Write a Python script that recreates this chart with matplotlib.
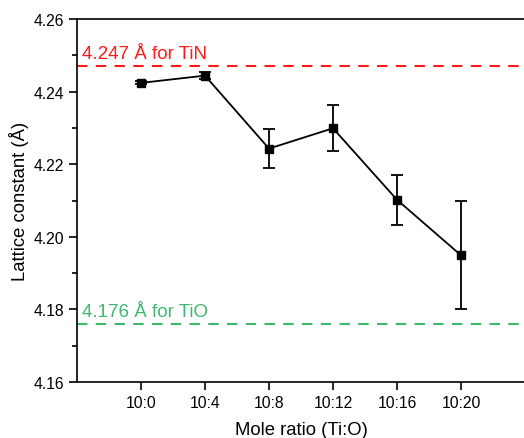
import matplotlib
matplotlib.use("Agg")
import matplotlib.pyplot as plt
from matplotlib.ticker import MultipleLocator

plt.rcParams['font.family'] = ['Liberation Sans', 'DejaVu Sans']

categories = ["10:0", "10:4", "10:8", "10:12", "10:16", "10:20"]
lattice = [4.2424, 4.2444, 4.2243, 4.2299, 4.2102, 4.1949]
errors = [0.0004, 0.0009, 0.0053, 0.0063, 0.0069, 0.0149]
tin_ref = 4.247
tio_ref = 4.176

fig = plt.figure(figsize=(5.24, 4.39), dpi=100)
ax = fig.add_axes([77/524, 56/439, 448/524, 363/439])

x = list(range(len(categories)))
ax.errorbar(x, lattice, yerr=errors, color='black', marker='s', markersize=6,
            linewidth=1.3, elinewidth=1.3, capsize=4, capthick=1.3, zorder=3)

ax.axhline(tin_ref, color='#FF1A1A', linestyle=(0, (5, 4)), linewidth=1.5)
ax.axhline(tio_ref, color='#3DB86F', linestyle=(0, (5, 4)), linewidth=1.5)
ax.text(-0.92, tin_ref + 0.0011, "4.247 Å for TiN", color='#FF1A1A', fontsize=13.5, va='bottom', ha='left')
ax.text(-0.92, tio_ref + 0.0011, "4.176 Å for TiO", color='#3DB86F', fontsize=13.5, va='bottom', ha='left')

ax.set_xlim(-1, 6)
ax.set_ylim(4.16, 4.26)
ax.set_xticks(x)
ax.set_xticklabels(categories)
ax.yaxis.set_major_locator(MultipleLocator(0.02))
ax.yaxis.set_minor_locator(MultipleLocator(0.01))
ax.yaxis.set_major_formatter(matplotlib.ticker.FormatStrFormatter('%.2f'))
ax.tick_params(axis='both', which='major', direction='out', length=6, width=1.2, labelsize=11.3)
ax.tick_params(axis='y', which='minor', direction='out', length=3.5, width=1.2)
for s in ax.spines.values():
    s.set_linewidth(1.2)

ax.set_xlabel("Mole ratio (Ti:O)", fontsize=13.3, labelpad=8)
ax.set_ylabel("Lattice constant (Å)", fontsize=13.3, labelpad=3)

fig.savefig("out.png", dpi=100)
